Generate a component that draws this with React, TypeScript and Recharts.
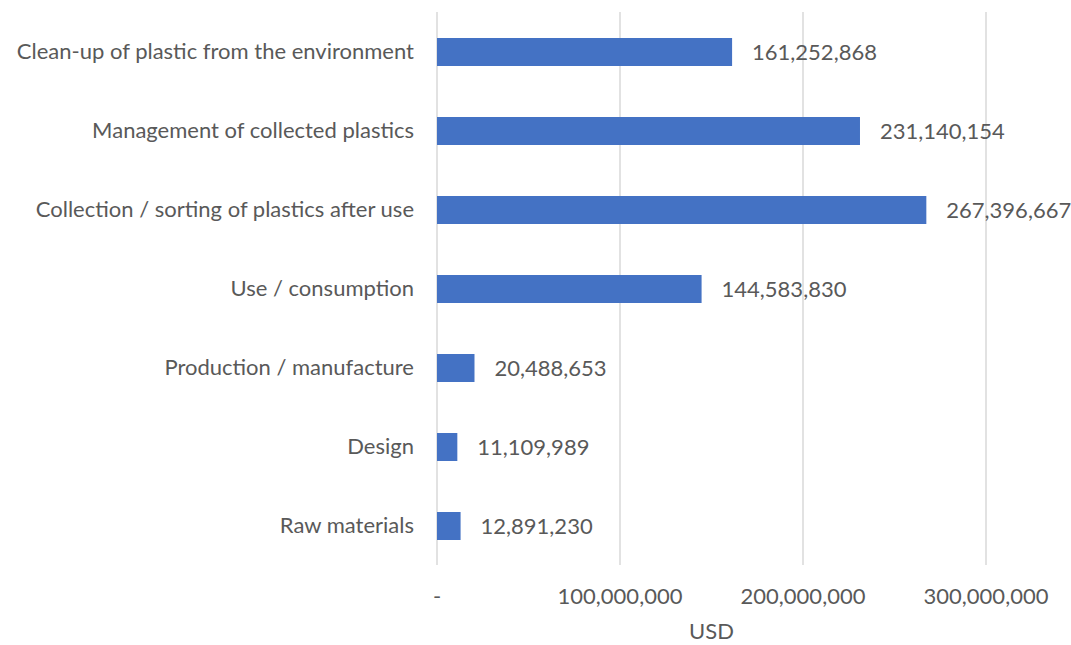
import React from "react";
import {
  BarChart,
  Bar,
  XAxis,
  YAxis,
  CartesianGrid,
  LabelList,
} from "recharts";

const stages = [
  "Clean-up of plastic from the environment",
  "Management of collected plastics",
  "Collection / sorting of plastics after use",
  "Use / consumption",
  "Production / manufacture",
  "Design",
  "Raw materials",
];

const funding = [
  161252868, 231140154, 267396667, 144583830, 20488653, 11109989, 12891230,
];

const xTicks = [0, 100000000, 200000000, 300000000];

const FONT = "Lato, 'Open Sans', sans-serif";
const TEXT = "#595959";
const SIZE = 22;

const fmt = (v: number) => (v === 0 ? "-" : v.toLocaleString("en-US"));

export default function App() {
  const data = stages.map((name, i) => ({ name, value: funding[i] }));

  return (
    <div style={{ position: "absolute", left: 0, top: 0, background: "#fff" }}>
      <BarChart
        width={1071}
        height={645}
        data={data}
        layout="vertical"
        margin={{ top: 12, right: 85, bottom: 0, left: 0 }}
        style={{ fontFamily: FONT }}
      >
        <CartesianGrid horizontal={false} stroke="#d9d9d9" strokeWidth={1.5} />
        <XAxis
          type="number"
          domain={[0, 300000000]}
          ticks={xTicks}
          tickFormatter={fmt}
          axisLine={false}
          tickLine={false}
          tickSize={0}
          tickMargin={23}
          height={80}
          tick={{ fill: TEXT, fontSize: SIZE }}
          label={{
            value: "USD",
            position: "insideBottom",
            offset: 6,
            fill: TEXT,
            fontSize: SIZE,
          }}
        />
        <YAxis
          type="category"
          dataKey="name"
          width={437}
          axisLine={false}
          tickLine={false}
          tickSize={0}
          tickMargin={23}
          tick={{ fill: TEXT, fontSize: SIZE }}
        />
        <Bar dataKey="value" fill="#4472C4" barSize={28} isAnimationActive={false}>
          <LabelList
            dataKey="value"
            position="right"
            offset={20}
            formatter={(v: number) => v.toLocaleString("en-US")}
            fill={TEXT}
            fontSize={SIZE}
          />
        </Bar>
      </BarChart>
    </div>
  );
}
